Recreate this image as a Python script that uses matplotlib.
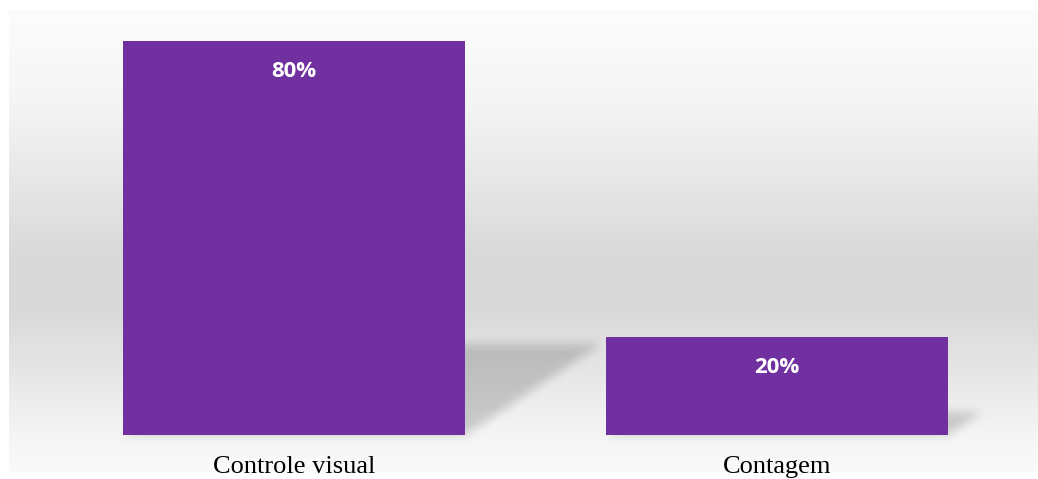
import numpy as np
import matplotlib
matplotlib.use("Agg")
import matplotlib.pyplot as plt
from matplotlib.path import Path

categories = ["Controle visual", "Contagem"]
values = [80, 20]
labels = ["80%", "20%"]

W, H = 1038, 479
fig = plt.figure(figsize=(W / 100, H / 100), dpi=100)
fig.patch.set_facecolor("white")

# gray gradient panel behind the chart
bg = fig.add_axes([9 / W, (H - 472) / H, (W - 9) / W, 462 / H], zorder=0)
stops_y = [0, 90, 160, 240, 300, 360, 420, 462]
stops_c = [252, 245, 233, 218, 217, 230, 244, 250]
g = np.interp(np.arange(462), stops_y, stops_c) / 255.0
grad = np.repeat(g[:, None], 2, axis=1)
bg.imshow(np.dstack([grad, grad, grad]), aspect="auto", extent=[0, 1, 0, 1],
          interpolation="bilinear")
bg.axis("off")

# main axes
ax = fig.add_axes([9 / W, 44 / H, (W - 9) / W, 425 / H], zorder=2)
ax.patch.set_alpha(0)
x = np.arange(len(categories))
width = 0.708
ax.set_xlim(-0.59, 1.54)
ax.set_ylim(0, 86.3)
bars = ax.bar(x, values, width=width, color="#7030A0", zorder=3)
for spine in ax.spines.values():
    spine.set_visible(False)
ax.set_yticks([])
ax.set_xticks(x)
ax.set_xticklabels(categories, fontfamily="Liberation Serif", fontsize=19)
ax.tick_params(axis="x", length=0, pad=15)

for b, lab in zip(bars, labels):
    ax.annotate(lab, (b.get_x() + b.get_width() / 2, b.get_height()),
                xytext=(0, -22), textcoords="offset points", ha="center", va="center",
                color="white", fontsize=16, fontweight="bold", fontfamily="Open Sans",
                zorder=4)

# blurred perspective shadows, rendered as an image
fig.canvas.draw()
yy, xx = np.mgrid[0:H, 0:W]
pts = np.column_stack([xx.ravel() + 0.5, (H - yy.ravel()) - 0.5])
mask = np.zeros(H * W)
for b in bars:
    (x0, y0), (x1, y1) = ax.transData.transform([(b.get_x(), 0),
                                                 (b.get_x() + b.get_width(), b.get_height())])
    hpx = y1 - y0
    sh, sk = hpx * 0.23, hpx * 0.343
    poly = Path([(x0, y0), (x1, y0), (x1 + sk, y0 + sh), (x0 + sk, y0 + sh), (x0, y0)])
    mask = np.maximum(mask, poly.contains_points(pts).astype(float))
mask = mask.reshape(H, W)
k = np.ones(11) / 11
for _ in range(2):
    mask = np.apply_along_axis(lambda r: np.convolve(r, k, mode="same"), 1, mask)
    mask = np.apply_along_axis(lambda c: np.convolve(c, k, mode="same"), 0, mask)
rgba = np.zeros((H, W, 4))
rgba[..., 3] = mask * 0.17
sax = fig.add_axes([0, 0, 1, 1], zorder=1)
sax.imshow(rgba, aspect="auto", extent=[0, 1, 0, 1])
sax.axis("off")

fig.savefig("out.png", dpi=100)
